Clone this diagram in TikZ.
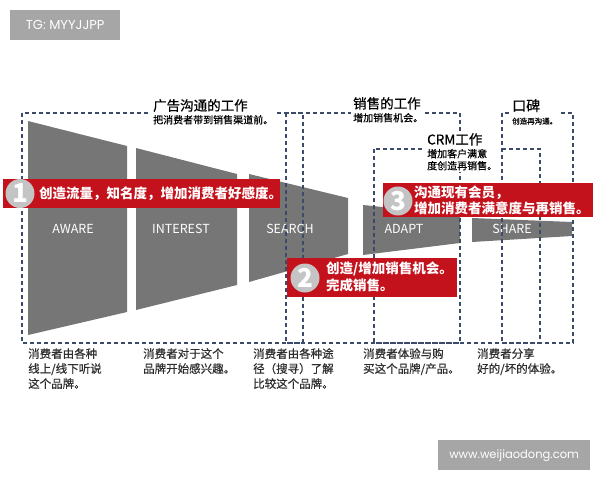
\documentclass[tikz,border=0pt]{standalone}
\usepackage{fontspec}
\setmainfont{Noto Sans CJK SC}
\newfontfamily\medfont[FakeBold=0.6]{Noto Sans CJK SC}
\newfontfamily\tagfont{Poppins}
\usetikzlibrary{positioning}
\definecolor{funnelgray}{HTML}{767676}
\definecolor{bannerred}{HTML}{C3121C}
\definecolor{dashblue}{HTML}{3D4B6A}
\definecolor{taggray}{HTML}{A6A6A6}
\definecolor{discgray}{HTML}{C4C4C4}
\definecolor{textgray}{HTML}{2E2E2E}
\newcommand{\fsz}[2]{\fontsize{#1}{#2}\selectfont}

\begin{document}
\begin{tikzpicture}[
    x=1pt, y=-1pt,
    stagefill/.style={fill=funnelgray},
    stagelabel/.style={text=white, font=\fsz{12.5}{14}},
    dashbox/.style={draw=dashblue, line width=1.2pt, dash pattern=on 4pt off 3pt},
    titleblock/.style={fill=white, align=left, inner sep=2pt, anchor=north west, text=black, font=\medfont},
    banner/.style={fill=bannerred, anchor=north west, inner sep=0pt},
    disc/.style={circle, fill=discgray, minimum size=29pt, inner sep=0pt,
      text=white, font=\bfseries\fsz{26}{26}},
    bannertext/.style={text=white, align=left, font=\bfseries\fsz{13.5}{16.5}, inner sep=1pt},
    notetext/.style={text=textgray, align=left, anchor=north west, font=\medfont\fsz{11.5}{15}, inner sep=0pt},
    tagbox/.style={fill=taggray, text=white, anchor=north west, font=\tagfont\fsz{13}{14}},
  ]
  \useasboundingbox (0,0) rectangle (600,480);

  % funnel stages
  \foreach \xa/\xb/\ta/\tb/\ba/\bb/\lx/\lbl in {
      28/127/121/146/335/312/73/AWARE,
      136/237/148/174/310/285/181/INTEREST,
      249/348/174/198/282/254/290/SEARCH,
      363/460/205/215/255/243/404/ADAPT,
      472/572/218/222/242/236/512/SHARE}{
    \fill[stagefill] (\xa,\ta) -- (\xb,\tb) -- (\xb,\bb) -- (\xa,\ba) -- cycle;
    \node[stagelabel] (stage-\lbl) at (\lx,229) {\lbl};
  }

  % work areas
  \draw[dashbox] (22,113) rectangle (303,343);
  \draw[dashbox] (286,113) rectangle (460,343);
  \draw[dashbox] (374,149) rectangle (540,343);
  \draw[dashbox] (502,113) rectangle (573,343);

  \node[titleblock] (adTitle) at (151,97)
    {\fsz{13.5}{16}广告沟通的工作\\[1pt]\fsz{10}{12}把消费者带到销售渠道前。};
  \node[titleblock] (salesTitle) at (351,95)
    {\fsz{13.5}{16}销售的工作\\[1pt]\fsz{10}{12}增加销售机会。};
  \node[titleblock] (crmTitle) at (425,131)
    {\fsz{13.5}{16}CRM工作\\[1pt]\fsz{10}{14.5}增加客户满意\\度创造再销售。};
  \node[titleblock] (wordTitle) at (510,97)
    {\fsz{14}{16}口碑\\[1pt]\fsz{7.5}{10}创造再沟通。};

  % red banners
  \node[banner, minimum width=277pt, minimum height=29pt] (banner1) at (3,179) {};
  \node[disc] (num1) at (20,193.5) {1};
  \node[bannertext, anchor=west] (msg1) at (38,193.5) {创造流量，知名度，增加消费者好感度。};

  \node[banner, minimum width=170pt, minimum height=39pt] (banner2) at (287,258) {};
  \node[disc] (num2) at (305,278) {2};
  \node[bannertext, anchor=west] (msg2) at (325,277) {创造/增加销售机会。\\完成销售。};

  \node[banner, minimum width=210pt, minimum height=34pt] (banner3) at (383,183) {};
  \node[disc] (num3) at (398,201) {3};
  \node[bannertext, anchor=west] (msg3) at (413,200.5) {沟通现有会员，\\增加消费者满意度与再销售。};

  % notes under the funnel
  \node[notetext] (note1) at (28,348) {消费者由各种\\线上/线下听说\\这个品牌。};
  \node[notetext] (note2) at (143,348) {消费者对于这个\\品牌开始感兴趣。};
  \node[notetext] (note3) at (253,348) {消费者由各种途\\径（搜寻）了解\\比较这个品牌。};
  \node[notetext] (note4) at (363,348) {消费者体验与购\\买这个品牌/产品。};
  \node[notetext] (note5) at (477,348) {消费者分享\\好的/坏的体验。};

  % tags
  \node[tagbox, minimum width=110pt, minimum height=30pt] (tgTag) at (10,10) {TG: MYYJJPP};
  \node[tagbox, minimum width=152pt, minimum height=30pt, font=\tagfont\fsz{11.5}{13}] (webTag) at (438,440) {www.weijiaodong.com};
\end{tikzpicture}
\end{document}
